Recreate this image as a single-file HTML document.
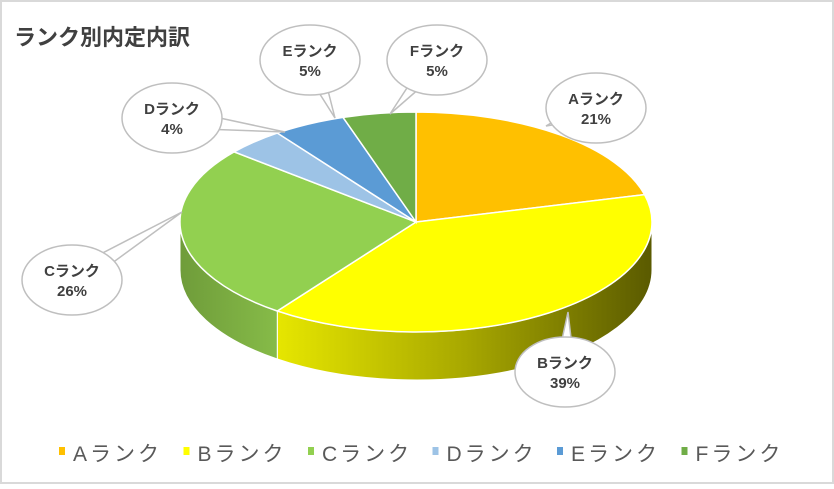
<!DOCTYPE html>
<html><head><meta charset="utf-8"><style>
body{margin:0;background:#fff;}
svg text{font-family:"Liberation Sans","Noto Sans CJK JP",sans-serif;}
</style></head><body>
<svg width="834" height="484" viewBox="0 0 834 484">
<defs>
<linearGradient id="gB" x1="0" x2="1" y1="0" y2="0"><stop offset="0" stop-color="#e6e600"/><stop offset="0.5" stop-color="#a8a800"/><stop offset="1" stop-color="#5a5a00"/></linearGradient>
<linearGradient id="gC" x1="0" x2="1" y1="0" y2="0"><stop offset="0" stop-color="#6f9c3a"/><stop offset="1" stop-color="#86bb48"/></linearGradient>
</defs>
<rect x="1" y="1" width="832" height="482" fill="#fff" stroke="#d9d9d9" stroke-width="2"/>
<text x="14" y="45" font-size="22" font-weight="bold" fill="#404040">ランク別内定内訳</text>
<g id="sides"></g>
<g id="slices"></g>
<g id="labels"></g>
<g id="legend"></g>
</svg>
<script>
const categories=["Aランク","Bランク","Cランク","Dランク","Eランク","Fランク"];
const values=[21,39,26,4,5,5];
const colors=["#FFC000","#FFFF00","#92D050","#9DC3E6","#5B9BD5","#70AD47"];
const sideFills=["#c99700","url(#gB)","url(#gC)","#7a9cbb","#44769f","#53813a"];
const NS="http://www.w3.org/2000/svg";
const cx=416,cy=222,rx=236,ry=110,depth=48;
function pt(t,dy){return [cx+rx*Math.sin(t),cy-ry*Math.cos(t)+(dy||0)];}
function mk(tag,attrs){const e=document.createElementNS(NS,tag);for(const k in attrs)e.setAttribute(k,attrs[k]);return e;}
const total=values.reduce((a,b)=>a+b,0);
const sides=document.getElementById('sides'),slices=document.getElementById('slices'),labels=document.getElementById('labels'),legend=document.getElementById('legend');
let acc=0;const angs=[];
values.forEach((v,i)=>{const a1=acc/total*2*Math.PI;acc+=v;const a2=acc/total*2*Math.PI;angs.push([a1,a2]);});
angs.forEach(([a1,a2],i)=>{
  const s=Math.max(a1,Math.PI/2),e=Math.min(a2,3*Math.PI/2);
  if(e>s){
    const p1=pt(s),p2=pt(e),q2=pt(e,depth),q1=pt(s,depth);
    const d=`M${p1} A${rx},${ry} 0 0 1 ${p2} L${q2} A${rx},${ry} 0 0 0 ${q1} Z`;
    const el=mk('path',{d:d,fill:sideFills[i],stroke:'#fff','stroke-width':1});
    
    
    sides.appendChild(el);
  }
  const p1=pt(a1),p2=pt(a2);const large=(a2-a1)>Math.PI?1:0;
  const el=mk('path',{d:`M${cx},${cy} L${p1} A${rx},${ry} 0 ${large} 1 ${p2} Z`,fill:colors[i],stroke:'#fff','stroke-width':1.5});
  
  
  slices.appendChild(el);
});
const lbl=[[596,108,546,126],[565,372,568,312],[72,280,182,212],[172,118,285,132],[310,60,335,118],[437,60,390,114]];
values.forEach((v,i)=>{
  const [lx,ly,tx,ty]=lbl[i];
  const g=mk('g',{});
  
  
  const dx=tx-lx,dy=ty-ly,L=Math.hypot(dx,dy),nx=-dy/L*10,ny=dx/L*10;
  g.appendChild(mk('polygon',{points:`${lx+nx},${ly+ny} ${tx},${ty} ${lx-nx},${ly-ny}`,fill:'#fff',stroke:'#bfbfbf','stroke-width':1.5}));
  g.appendChild(mk('ellipse',{cx:lx,cy:ly,rx:50,ry:35,fill:'#fff',stroke:'#bfbfbf','stroke-width':1.5}));
  const t1=mk('text',{x:lx,y:ly-4,'text-anchor':'middle','font-size':15,'font-weight':'bold',fill:'#404040'});t1.textContent=categories[i];
  const t2=mk('text',{x:lx,y:ly+16,'text-anchor':'middle','font-size':15,'font-weight':'bold',fill:'#404040'});t2.textContent=v+'%';
  g.appendChild(t1);g.appendChild(t2);labels.appendChild(g);
});
categories.forEach((c,i)=>{
  const x=59+i*124.5;
  const g=mk('g',{});
  
  
  g.appendChild(mk('rect',{x:x,y:447,width:6,height:8,fill:colors[i]}));
  const t=mk('text',{x:x+14,y:461,'font-size':21,fill:'#595959','letter-spacing':3});t.textContent=c;
  g.appendChild(t);legend.appendChild(g);
});
</script>
</body></html>
